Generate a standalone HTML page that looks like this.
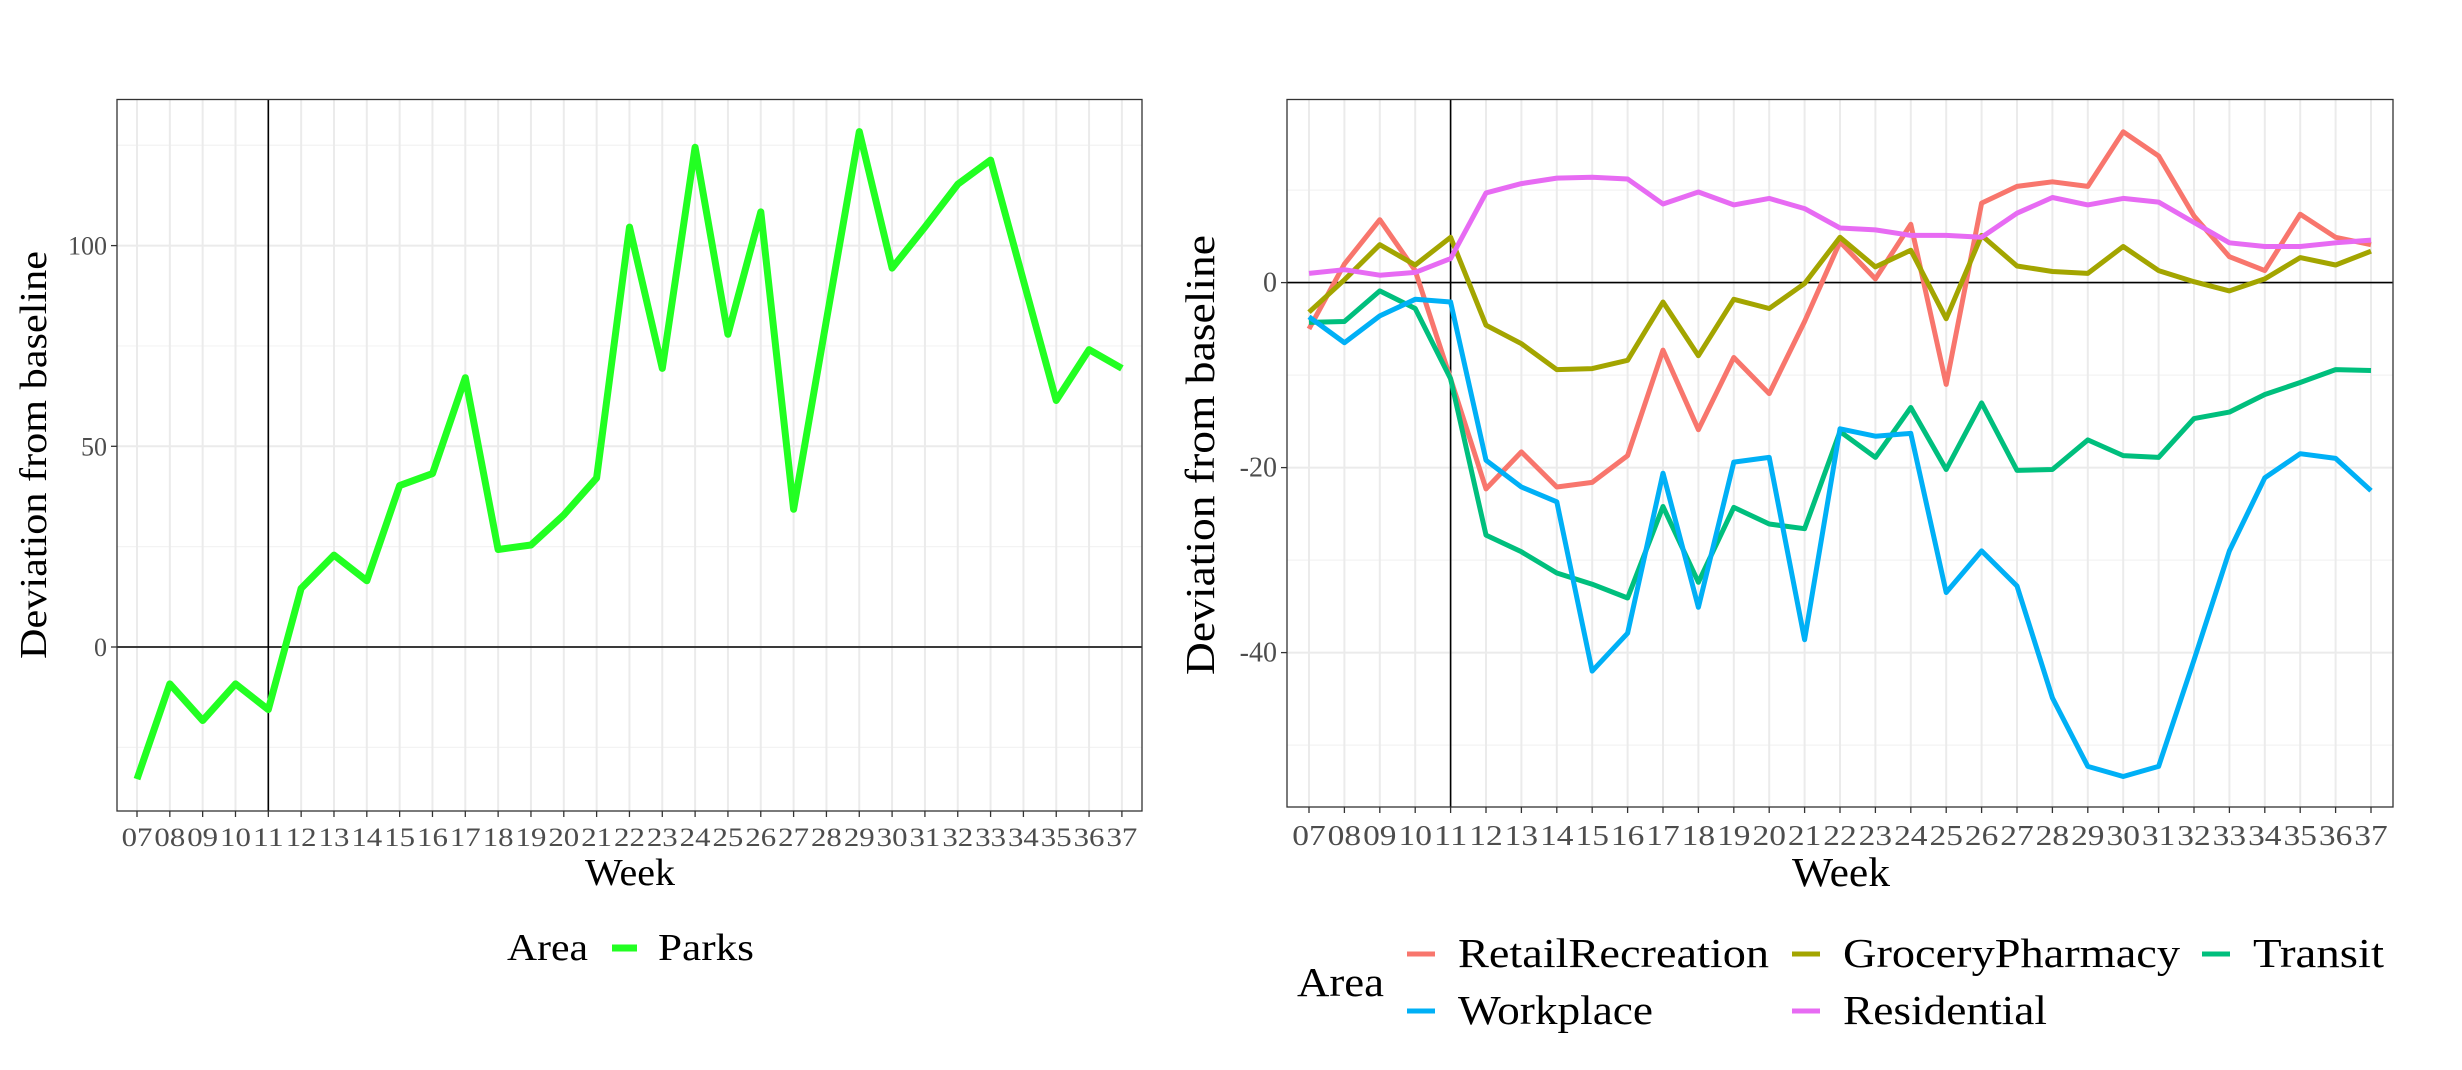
<!DOCTYPE html>
<html><head><meta charset="utf-8"><style>
html,body{margin:0;padding:0;background:#fff;}
svg{display:block;font-family:"Liberation Serif",serif;}
</style></head><body>
<svg id="s" width="2462" height="1070" xmlns="http://www.w3.org/2000/svg"></svg>
<script>
const S=document.getElementById('s');let h='';
const TL=n=>`textLength="${n}" lengthAdjust="spacingAndGlyphs"`;
function panel(o){
  const {L,R,T,B,x0,dx,y0,py,major,minor}=o;
  const Y=v=>y0-v*py, X=i=>x0+i*dx;
  minor.forEach(v=>{h+=`<line x1="${L}" x2="${R}" y1="${Y(v)}" y2="${Y(v)}" stroke="#f3f3f3" stroke-width="1.2"/>`});
  major.forEach(v=>{h+=`<line x1="${L}" x2="${R}" y1="${Y(v)}" y2="${Y(v)}" stroke="#ebebeb" stroke-width="2"/>`});
  for(let i=0;i<31;i++)h+=`<line x1="${X(i)}" x2="${X(i)}" y1="${T}" y2="${B}" stroke="#ebebeb" stroke-width="2"/>`;
  h+=`<line x1="${L}" x2="${R}" y1="${Y(0)}" y2="${Y(0)}" stroke="#000" stroke-width="1.6"/>`;
  h+=`<line x1="${X(4)}" x2="${X(4)}" y1="${T}" y2="${B}" stroke="#000" stroke-width="1.6"/>`;
  o.series.forEach(s=>{h+=`<polyline fill="none" stroke="${s.c}" stroke-width="${s.w}" stroke-linejoin="round" points="${s.d.map((v,i)=>X(i).toFixed(1)+','+Y(v).toFixed(1)).join(' ')}"/>`});
  h+=`<rect x="${L}" y="${T}" width="${R-L}" height="${B-T}" fill="none" stroke="#333" stroke-width="1.3"/>`;
  major.forEach(v=>{h+=`<line x1="${L-6}" x2="${L}" y1="${Y(v)}" y2="${Y(v)}" stroke="#333" stroke-width="1.3"/><text x="${L-10}" y="${Y(v)+9}" font-size="${o.tf}" fill="#4d4d4d" text-anchor="end">${v}</text>`});
  for(let i=0;i<31;i++){const w=String(i+7).padStart(2,'0');h+=`<line x1="${X(i)}" x2="${X(i)}" y1="${B}" y2="${B+6}" stroke="#333" stroke-width="1.3"/><text x="${X(i)}" y="${o.tly}" font-size="${o.tf}" fill="#4d4d4d" text-anchor="middle" ${TL(dx-2)}>${w}</text>`;}
  h+=`<text x="${o.wx}" y="${o.wy}" font-size="${o.af}" text-anchor="middle" ${TL(o.wl)}>Week</text>`;
  h+=`<text transform="translate(${o.yx},${o.yy}) rotate(-90)" font-size="${o.af}" text-anchor="middle" ${TL(o.yl)}>Deviation from baseline</text>`;
}
panel({L:117,R:1142,T:99.5,B:811,x0:137,dx:32.83,y0:647,py:4.014,major:[0,50,100],minor:[-25,25,75,125],tly:846,wx:630,wy:885,yx:46,yy:455,tf:26,af:38,wl:90,yl:408,
series:[{c:"#22ff22",w:7,d:[-32.9,-9.2,-18.3,-9.2,-15.6,14.6,22.9,16.5,40.2,43.2,67.1,24.3,25.4,32.9,42.1,104.6,69.4,124.5,77.9,108.4,34.3,81.4,128.4,94.4,104.6,115.3,121.3,91.3,61.4,74.1,69.4]}]});
panel({L:1287,R:2393,T:99.5,B:807,x0:1309,dx:35.4,y0:282.6,py:9.25,major:[-40,-20,0],minor:[-50,-30,-10,10],tly:845,wx:1841,wy:886,yx:1214,yy:455,tf:28,af:41,wl:98,yl:440,
series:[
{c:"#F8766D",w:5,d:[-5,2,6.8,1.3,-10.4,-22.3,-18.3,-22.1,-21.6,-18.7,-7.3,-15.9,-8.1,-12,-4.2,4.4,0.4,6.3,-11,8.6,10.4,10.9,10.4,16.3,13.7,7.2,2.8,1.3,7.4,4.9,4.1]},
{c:"#A3A500",w:5,d:[-3.2,0.3,4.1,1.9,4.9,-4.6,-6.6,-9.4,-9.3,-8.4,-2.1,-7.9,-1.8,-2.8,-0.1,4.9,1.7,3.5,-3.9,5.1,1.8,1.2,1.0,3.9,1.3,0.1,-0.9,0.4,2.7,1.9,3.4]},
{c:"#00BF7D",w:5,d:[-4.3,-4.2,-0.9,-2.8,-10.4,-27.3,-29.1,-31.4,-32.6,-34.1,-24.2,-32.4,-24.3,-26.1,-26.6,-16.1,-18.9,-13.5,-20.2,-13.0,-20.3,-20.2,-17.0,-18.7,-18.9,-14.7,-14.0,-12.1,-10.8,-9.4,-9.5]},
{c:"#00B0F6",w:5,d:[-3.7,-6.5,-3.6,-1.8,-2.1,-19.2,-22.1,-23.7,-42,-37.9,-20.6,-35.1,-19.4,-18.9,-38.6,-15.8,-16.6,-16.3,-33.5,-29,-32.8,-44.9,-52.3,-53.4,-52.3,-40.8,-29,-21.1,-18.5,-19,-22.5]},
{c:"#E76BF3",w:5,d:[1.0,1.4,0.8,1.1,2.6,9.7,10.7,11.3,11.4,11.2,8.5,9.8,8.4,9.1,8.0,5.9,5.7,5.1,5.1,4.9,7.5,9.2,8.4,9.1,8.7,6.5,4.3,3.9,3.9,4.3,4.6]}]});
// legends
h+=`<text x="507" y="960" font-size="38" ${TL(81)}>Area</text><line x1="612" x2="637" y1="948" y2="948" stroke="#22ff22" stroke-width="7"/><text x="658" y="960" font-size="38" ${TL(96)}>Parks</text>`;
h+=`<text x="1297" y="996" font-size="41" ${TL(87)}>Area</text>`;
[[1407,954,"#F8766D","RetailRecreation",311],[1792,954,"#A3A500","GroceryPharmacy",337],[2202,954,"#00BF7D","Transit",131],[1407,1011,"#00B0F6","Workplace",195],[1792,1011,"#E76BF3","Residential",204]].forEach(([x,y,c,t,l])=>{
h+=`<line x1="${x}" x2="${x+28}" y1="${y}" y2="${y}" stroke="${c}" stroke-width="5"/><text x="${x+51}" y="${y+13}" font-size="41" ${TL(l)}>${t}</text>`;});
S.innerHTML=h;
</script>
</body></html>
